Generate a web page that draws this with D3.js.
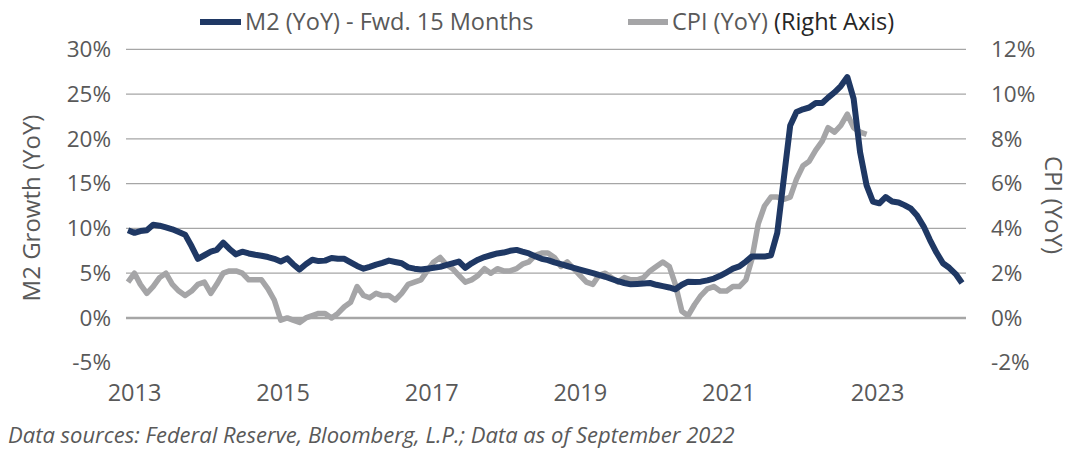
<!DOCTYPE html>
<html>
<head>
<meta charset="utf-8">
<script src="https://cdn.jsdelivr.net/npm/d3@7"></script>
<style>
  body { margin: 0; background: #fff; }
  text { font-family: "Open Sans", sans-serif; fill: #595959; }
</style>
</head>
<body>
<svg id="chart" width="1074" height="449"></svg>
<script>
// monthly, starting Jan 2013
const m2Fwd = [
  9.8, 9.5, 9.7, 9.8, 10.4, 10.3, 10.1, 9.9, 9.6, 9.3, 8.0, 6.6,
  7.0, 7.4, 7.6, 8.4, 7.7, 7.1, 7.4, 7.2, 7.05, 6.95, 6.8, 6.6,
  6.3, 6.65, 6.0, 5.4, 6.0, 6.5, 6.35, 6.4, 6.7, 6.6, 6.6, 6.2,
  5.8, 5.5, 5.7, 5.95, 6.15, 6.4, 6.25, 6.1, 5.65, 5.5, 5.4, 5.5,
  5.6, 5.7, 5.9, 6.1, 6.3, 5.6, 6.1, 6.5, 6.8, 7.0, 7.2, 7.3,
  7.5, 7.6, 7.4, 7.2, 6.9, 6.6, 6.45, 6.2, 6.0, 5.8, 5.6, 5.4,
  5.2, 5.0, 4.8, 4.6, 4.35, 4.1, 3.9, 3.75, 3.8, 3.85, 3.9, 3.7,
  3.55, 3.4, 3.2, 3.7, 4.05, 4.0, 4.05, 4.2, 4.4, 4.7, 5.1, 5.5,
  5.75, 6.3, 6.85, 6.85, 6.85, 7.0, 9.5, 15.5, 21.5, 23.0, 23.3, 23.5,
  24.0, 24.0, 24.6, 25.2, 25.9, 26.9, 24.5, 18.5, 14.8, 13.0, 12.8, 13.5,
  13.0, 12.9, 12.6, 12.2, 11.4, 10.2, 8.7, 7.3, 6.1, 5.6, 4.9, 3.9
];
const cpiYoY = [
  1.6, 2.0, 1.5, 1.1, 1.4, 1.8, 2.0, 1.5, 1.2, 1.0, 1.2, 1.5,
  1.6, 1.1, 1.5, 2.0, 2.1, 2.1, 2.0, 1.7, 1.7, 1.7, 1.3, 0.8,
  -0.1, 0.0, -0.1, -0.2, 0.0, 0.1, 0.2, 0.2, 0.0, 0.2, 0.5, 0.7,
  1.4, 1.0, 0.9, 1.1, 1.0, 1.0, 0.8, 1.1, 1.5, 1.6, 1.7, 2.1,
  2.5, 2.7, 2.4, 2.2, 1.9, 1.6, 1.7, 1.9, 2.2, 2.0, 2.2, 2.1,
  2.1, 2.2, 2.4, 2.5, 2.8, 2.9, 2.9, 2.7, 2.3, 2.5, 2.2, 1.9,
  1.6, 1.5, 1.9, 2.0, 1.8, 1.6, 1.8, 1.7, 1.7, 1.8, 2.1, 2.3,
  2.5, 2.3, 1.5, 0.3, 0.1, 0.6, 1.0, 1.3, 1.4, 1.2, 1.2, 1.4,
  1.4, 1.7, 2.6, 4.2, 5.0, 5.4, 5.4, 5.3, 5.4, 6.2, 6.8, 7.0,
  7.5, 7.9, 8.5, 8.3, 8.6, 9.1, 8.5, 8.3, 8.2
];
const xLabels = ["2013", "2015", "2017", "2019", "2021", "2023"];
const leftTicks = [-5, 0, 5, 10, 15, 20, 25, 30];
const rightTicks = [-2, 0, 2, 4, 6, 8, 10, 12];

const navy = "#1f3864", grey = "#a5a5a7";
const svg = d3.select("#chart");

const monthDate = i => new Date(2013, i, 1);
const x = d3.scaleTime()
  .domain([monthDate(0), monthDate(131)])
  .range([128, 962]);
const xLab = d3.scalePoint().domain(xLabels).range([134, 877]);
const yL = d3.scaleLinear().domain([-5, 30]).range([362.7, 49.3]);
const yR = d3.scaleLinear().domain([-2, 12]).range([362.7, 49.3]);

const plotL = 126, plotR = 966;
const fs = "22.5px";

// gridlines
svg.append("g").selectAll("line")
  .data(leftTicks.filter(d => d > 0))
  .join("line")
  .attr("x1", plotL).attr("x2", plotR)
  .attr("y1", d => yL(d)).attr("y2", d => yL(d))
  .attr("stroke", "#a6a6a6").attr("stroke-width", 1.3);

svg.append("line")
  .attr("x1", plotL).attr("x2", plotR)
  .attr("y1", yL(0)).attr("y2", yL(0))
  .attr("stroke", "#a6a6a6").attr("stroke-width", 2.6);

// left axis
const axL = svg.append("g")
  .attr("transform", `translate(${plotL},0)`)
  .call(d3.axisLeft(yL).tickValues(leftTicks).tickSize(0).tickPadding(15)
    .tickFormat(d => d + "%"));
axL.select(".domain").remove();
axL.selectAll("text").style("font-size", fs).attr("fill", "#595959");

// right axis
const axR = svg.append("g")
  .attr("transform", `translate(${plotR},0)`)
  .call(d3.axisRight(yR).tickValues(rightTicks).tickSize(0).tickPadding(25)
    .tickFormat(d => d + "%"));
axR.select(".domain").remove();
axR.selectAll("text").style("font-size", fs).attr("fill", "#595959");

// x labels
const axX = svg.append("g")
  .attr("transform", "translate(0,379)")
  .call(d3.axisBottom(xLab).tickSize(0).tickPadding(5));
axX.select(".domain").remove();
axX.selectAll("text").style("font-size", "23.5px").attr("fill", "#595959");

// lines
const lineL = d3.line().x((d, i) => x(monthDate(i))).y(d => yL(d));
const lineR = d3.line().x((d, i) => x(monthDate(i))).y(d => yR(d));

svg.append("path").datum(cpiYoY)
  .attr("d", lineR).attr("fill", "none")
  .attr("stroke", grey).attr("stroke-width", 5.5)
  .attr("stroke-linejoin", "round");

svg.append("path").datum(m2Fwd)
  .attr("d", lineL).attr("fill", "none")
  .attr("stroke", navy).attr("stroke-width", 6)
  .attr("stroke-linejoin", "round");

// axis titles
svg.append("text")
  .attr("transform", "translate(40,208) rotate(-90)")
  .attr("text-anchor", "middle")
  .style("font-size", "24px")
  .text("M2 Growth (YoY)");

svg.append("text")
  .attr("transform", "translate(1045,205) rotate(90)")
  .attr("text-anchor", "middle")
  .style("font-size", "24px")
  .text("CPI (YoY)");

// legend
const lg = svg.append("g");
lg.append("line").attr("x1", 200).attr("x2", 241).attr("y1", 22).attr("y2", 22)
  .attr("stroke", navy).attr("stroke-width", 6);
lg.append("text").attr("x", 245).attr("y", 30).style("font-size", "23.5px")
  .text("M2 (YoY) - Fwd. 15 Months");
lg.append("line").attr("x1", 628).attr("x2", 668).attr("y1", 22).attr("y2", 22)
  .attr("stroke", grey).attr("stroke-width", 6);
const lt = lg.append("text").attr("x", 672).attr("y", 30).style("font-size", "23.5px");
lt.append("tspan").text("CPI (YoY) ");
lt.append("tspan").style("fill", "#262626").text("(Right Axis)");

// footnote
svg.append("text")
  .attr("x", 8).attr("y", 443)
  .style("font-size", "22px").style("font-style", "italic")
  .text("Data sources: Federal Reserve, Bloomberg, L.P.; Data as of September 2022");
</script>
</body>
</html>
